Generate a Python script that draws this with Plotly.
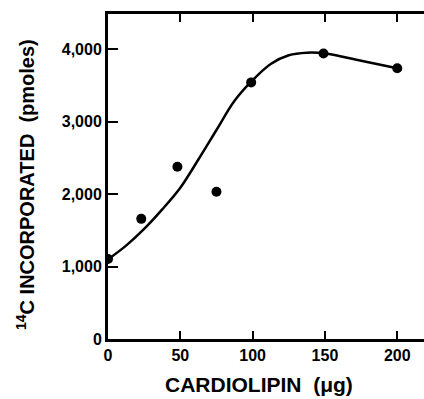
import plotly.graph_objects as go

# measured points
cardiolipin = [0, 23, 48, 75, 99, 149, 200]
incorporated = [1105, 1660, 2380, 2035, 3545, 3945, 3740]

# fitted curve
curve_x = [0, 12.5, 25, 37.5, 50, 62.5, 75, 87.5, 100, 112.5, 125, 137.5, 150, 175, 200]
curve_y = [1100, 1290, 1520, 1790, 2090, 2480, 2887, 3290, 3575, 3800, 3920, 3955, 3945, 3845, 3740]

x_ticks = [0, 50, 100, 150, 200]
x_labels = ["0", "50", "100", "150", "200"]
y_ticks = [0, 1000, 2000, 3000, 4000]
y_labels = ["0", "1,000", "2,000", "3,000", "4,000"]

FONT = "Liberation Sans"

fig = go.Figure()
fig.add_trace(go.Scatter(
    x=curve_x, y=curve_y, mode="lines",
    line=dict(color="black", width=2.5, shape="spline", smoothing=1.0),
    hoverinfo="skip", showlegend=False))
fig.add_trace(go.Scatter(
    x=cardiolipin, y=incorporated, mode="markers",
    marker=dict(color="black", size=10),
    showlegend=False))

fig.update_layout(
    width=424, height=399,
    margin=dict(l=108, r=0, t=14, b=60),
    plot_bgcolor="white", paper_bgcolor="white",
    font=dict(family=FONT, color="black"),
    xaxis=dict(
        range=[0, 218.5], tickvals=x_ticks, ticktext=x_labels,
        ticks="inside", ticklen=8, tickwidth=2, tickcolor="black",
        showline=True, linewidth=3, linecolor="black", mirror="ticks",
        showgrid=False, zeroline=False,
        tickfont=dict(family=FONT, size=16, weight="bold", color="black"),
    ),
    yaxis=dict(
        range=[0, 4490], tickvals=y_ticks, ticktext=y_labels,
        ticks="inside", ticklen=10, tickwidth=2, tickcolor="black",
        showline=True, linewidth=3, linecolor="black",
        showgrid=False, zeroline=False,
        tickfont=dict(family=FONT, size=16, weight="bold", color="black"),
    ),
    annotations=[
        dict(text="<b>CARDIOLIPIN  (\u03bcg)</b>", xref="paper", yref="paper",
             x=(259 - 108) / 316, y=-(384 - 339) / 325, xanchor="center", yanchor="middle",
             showarrow=False, font=dict(family=FONT, size=21, color="black")),
        dict(text="<b><sup>14</sup>C INCORPORATED  (pmoles)</b>", xref="paper", yref="paper",
             x=-(108 - 25) / 316, y=(339 - 185) / 325, xanchor="center", yanchor="middle",
             textangle=-90, showarrow=False, font=dict(family=FONT, size=20, color="black")),
    ],
)

fig.write_html("out.html", config={"displayModeBar": False},
               post_script="document.body.style.margin='0';document.body.style.overflow='hidden';")
